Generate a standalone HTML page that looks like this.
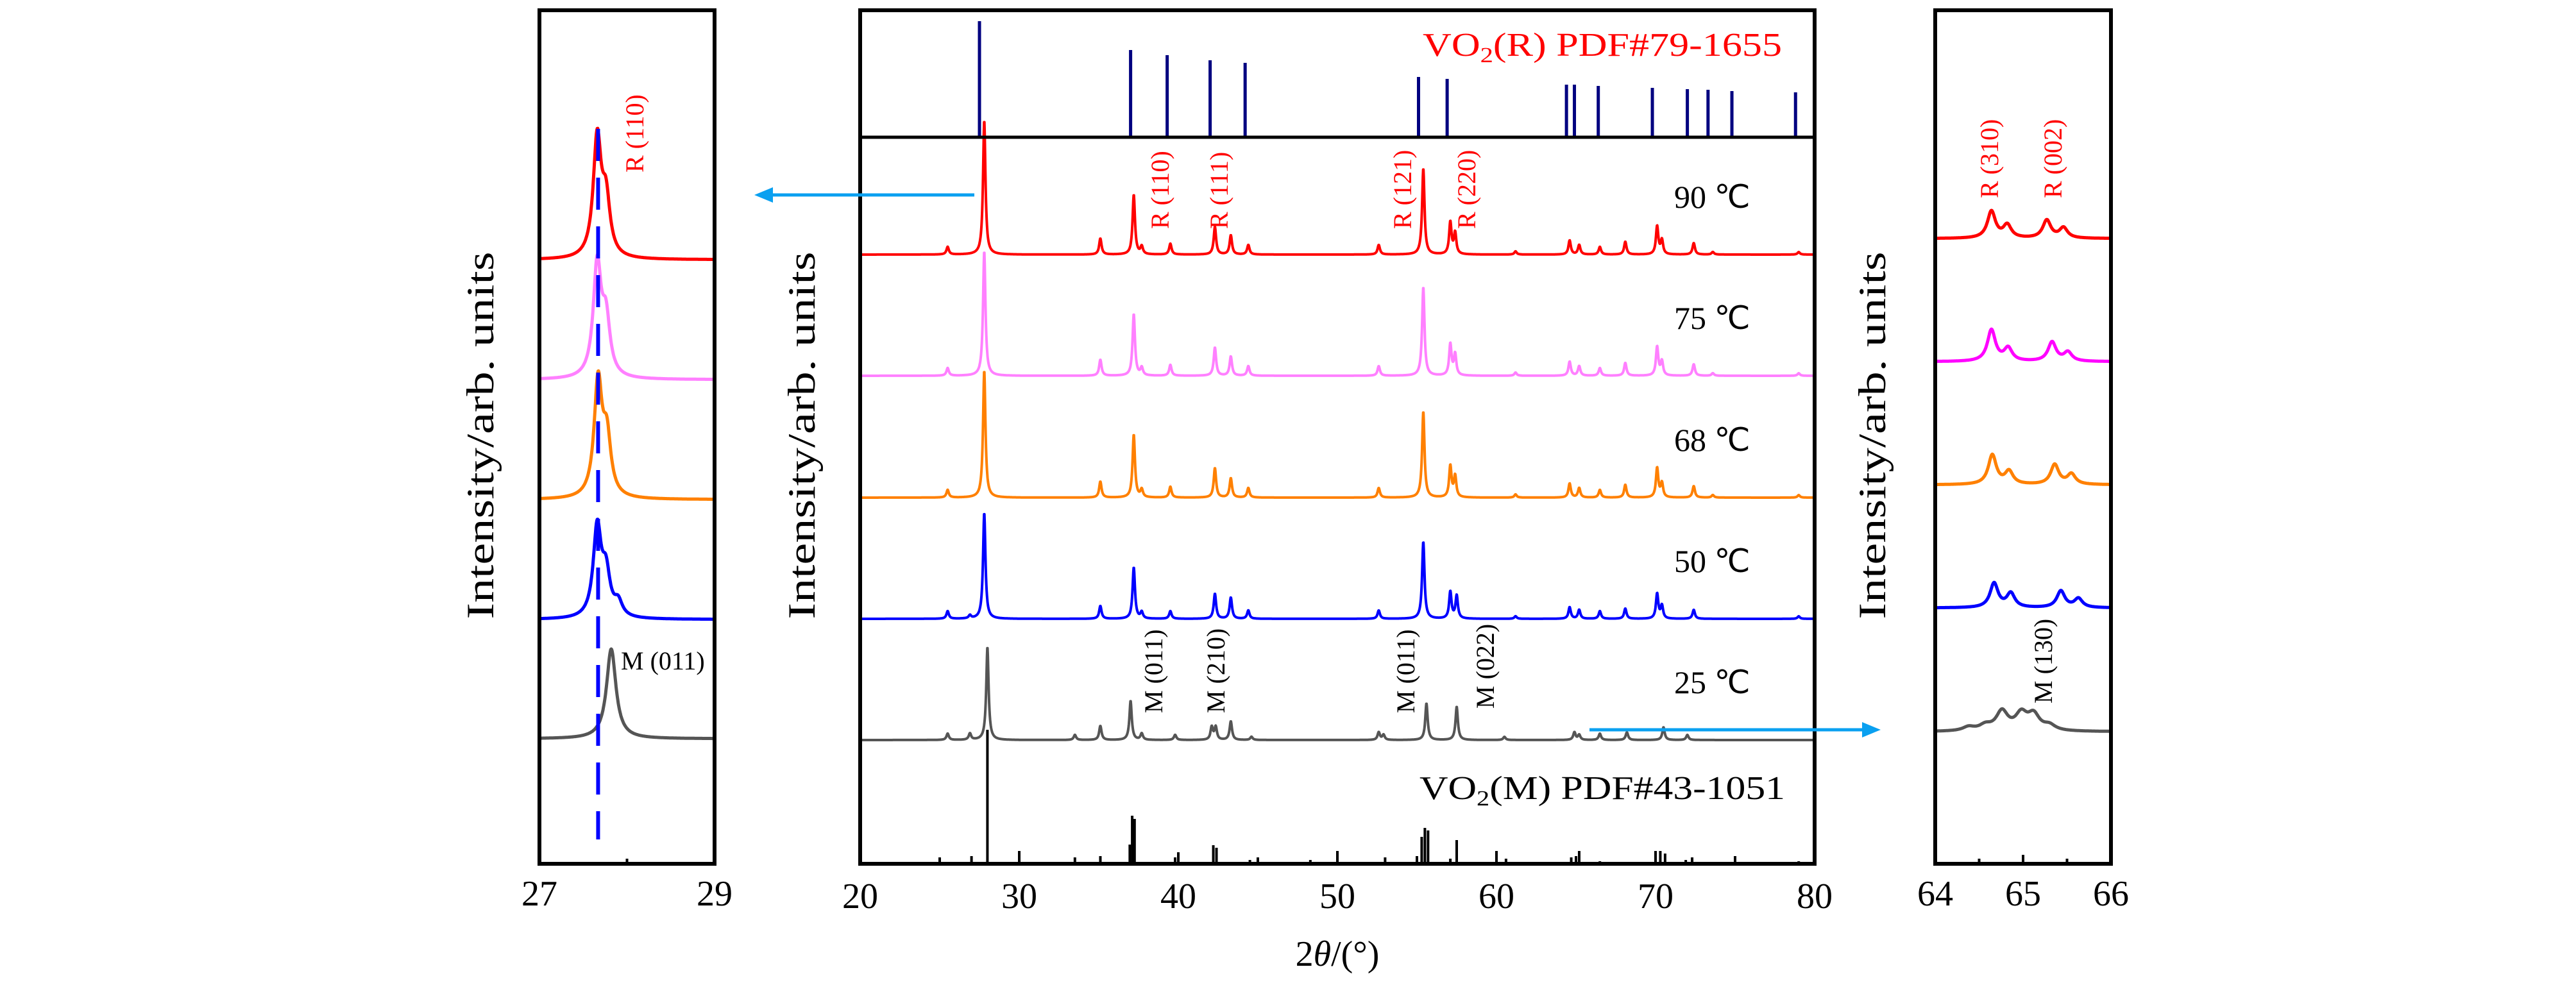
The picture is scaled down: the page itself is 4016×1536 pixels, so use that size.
<!DOCTYPE html>
<html><head><meta charset="utf-8"><style>
html,body{margin:0;padding:0;background:#fff}
svg{display:block}
text{font-family:"Liberation Serif",serif}
</style></head><body>
<svg id="chart" width="4016" height="1536" viewBox="0 0 4016 1536" xmlns="http://www.w3.org/2000/svg">
<g id="main"></g>
<g id="left"></g>
<g id="right"></g>
</svg>
<script>
// ---------- data ----------
const mainTicks = [20,30,40,50,60,70,80];
const leftTicks = [27,29];
const rightTicks = [64,65,66];
const tempLabels = ["90 ℃","75 ℃","68 ℃","50 ℃","25 ℃"];
const seriesColors = ["#ff0000","#ff80ff","#ff8000","#0000ff","#555555"];
const rightColors = ["#ff0000","#ff00ff","#ff8000","#0000ff","#555555"];

const refRPos = [27.5,37.0,39.3,42.0,44.2,55.1,56.9,64.4,64.9,66.4,69.8,72.0,73.3,74.8,78.8];
const refRInt = [181,136,128,120,116,94,91,82,82,80,77,75,74,72,70];
const refMPos = [25.0,27.0,28.0,30.0,33.5,35.1,36.95,37.1,37.25,39.8,40.0,42.2,42.4,44.5,45.0,48.3,50.0,53.0,55.0,55.3,55.5,55.7,57.1,57.5,60.0,60.6,64.7,65.0,65.2,66.5,70.0,70.3,70.6,71.9,72.3,75.0,79.0];
const refMInt = [10,12,209,20,10,12,30,75,70,10,18,29,25,6,10,6,20,10,12,42,56,52,8,37,20,8,10,12,20,4,20,20,16,6,10,12,4];

const p90 = [25.5,27.8,35.1,37.2,37.7,39.5,42.3,43.3,44.4,52.6,55.4,57.1,57.4,61.2,64.6,65.2,66.5,68.1,70.1,70.4,72.4,73.6,79.0];
const h90 = [12,209,25,93,12,17,43,30,15,15,134,50,33,5,22,15,12,20,44,22,18,4,4];
const p75 = p90;
const h75 = [12,194,25,96,12,17,44,30,15,15,138,49,33,5,22,15,12,20,45,22,18,4,4];
const p68 = p90;
const h68 = [12,198,25,98,12,17,46,30,15,15,134,49,33,5,22,15,12,20,46,22,18,4,4];
const p50 = [25.5,26.9,27.8,35.1,37.2,37.7,39.5,42.3,43.3,44.4,52.6,55.4,57.1,57.5,61.2,64.6,65.2,66.5,68.1,70.1,70.4,72.4,79.0];
const h50 = [12,5,165,20,80,10,12,39,33,13,13,120,42,36,4,18,14,12,16,39,20,14,4];
const p25 = [25.5,26.9,28.0,33.5,35.1,37.0,37.7,39.8,42.1,42.35,43.3,44.6,52.6,52.9,55.6,57.5,60.5,64.9,65.2,66.5,68.2,70.5,72.0];
const h25 = [10,10,145,8,22,61,10,8,20,20,29,5,12,8,57,52,5,12,8,10,12,20,8];
const mainBase = [397,586,776,965,1154];

const lp = [[27.66,27.76],[27.66,27.76],[27.67,27.77],[27.66,27.76,27.9],[27.82]];
const lh = [[185,85],[175,85],[180,88],[140,65,22],[140]];
const leftBase = [405,592,779,966,1152];

const rp = [[64.64,64.82,65.27,65.46],[64.64,64.83,65.33,65.51],[64.65,64.84,65.36,65.55],[64.67,64.86,65.43,65.63],[64.38,64.57,64.76,64.98,65.12,65.3]];
const rh = [[42,20,28,16],[49,20,30,14],[46,20,31,16],[38,22,26,14],[6,8,30,25,24,8]];
const rightBase = [372,564,756,948,1141];

// ---------- helpers ----------
const NS="http://www.w3.org/2000/svg";
function mk(parent,tag,attrs){const e=document.createElementNS(NS,tag);for(const k in attrs)e.setAttribute(k,attrs[k]);parent.appendChild(e);return e;}
function lin(d0,d1,r0,r1){return v=>r0+(v-d0)*(r1-r0)/(d1-d0);}
function profile(pos,hts,w,x0,x1,step){
  const pts=[];
  for(let x=x0;x<=x1+1e-9;x+=step){
    let y=0;
    for(let i=0;i<pos.length;i++){const d=(x-pos[i])/w;y+=hts[i]/(1+d*d);}
    pts.push([x,y]);
  }
  return pts;
}
function pathFrom(pts,sx,base){return pts.map((p,i)=>(i?"L":"M")+sx(p[0]).toFixed(1)+" "+(base-p[1]).toFixed(1)).join("");}

// ---------- main panel ----------
const main=document.getElementById('main');
const MX0=1341,MX1=2829,MTOP=16,MSPLIT=214,MBOT=1347;
const sx=lin(20,80,MX0,MX1);
const mainP=[p90,p75,p68,p50,p25], mainH=[h90,h75,h68,h50,h25];
const seriesNames=['series-90c','series-75c','series-68c','series-50c','series-25c'];
for(let s=0;s<5;s++){
  const pts=profile(mainP[s],mainH[s],0.09,20.05,79.95,0.02);
  const p=mk(main,'path',{d:pathFrom(pts,sx,mainBase[s]),fill:'none',stroke:seriesColors[s],'stroke-width':4,'stroke-linejoin':'round'});
  
  
}
for(let i=0;i<refRPos.length;i++){
  const l=mk(main,'line',{x1:sx(refRPos[i]),x2:sx(refRPos[i]),y1:MSPLIT,y2:MSPLIT-refRInt[i],stroke:'#000080','stroke-width':5});
  
  
}
for(let i=0;i<refMPos.length;i++){
  const l=mk(main,'line',{x1:sx(refMPos[i]),x2:sx(refMPos[i]),y1:MBOT,y2:MBOT-refMInt[i],stroke:'#000','stroke-width':4});
  
  
}
let fr=mk(main,'rect',{x:MX0,y:MTOP,width:MX1-MX0,height:MBOT-MTOP,fill:'none',stroke:'#000','stroke-width':6});


let sp=mk(main,'line',{x1:MX0,x2:MX1,y1:MSPLIT,y2:MSPLIT,stroke:'#000','stroke-width':5});


for(const t of mainTicks){
  const tx=mk(main,'text',{x:sx(t),y:1416,'font-size':56,'text-anchor':'middle'});tx.textContent=t;
  
  
}
for(let s=0;s<5;s++){
  const tx=mk(main,'text',{x:2610,y:mainBase[s]-73,'font-size':50});tx.textContent=tempLabels[s];
  
  
}

// ---------- left inset ----------
const left=document.getElementById('left');
const LX0=841,LX1=1114,LTOP=16,LBOT=1347;
const lx=lin(27,29,LX0,LX1);
for(let s=0;s<5;s++){
  const pts=profile(lp[s],lh[s],s==4?0.065:0.055,27.0,29.0,0.005);
  const p=mk(left,'path',{d:pathFrom(pts,lx,leftBase[s]),fill:'none',stroke:seriesColors[s],'stroke-width':5,'stroke-linejoin':'round'});
  
  
}
let dl=mk(left,'line',{x1:lx(27.67),x2:lx(27.67),y1:201,y2:1309,stroke:'#0000ff','stroke-width':6,'stroke-dasharray':'50 26'});


fr=mk(left,'rect',{x:LX0,y:LTOP,width:LX1-LX0,height:LBOT-LTOP,fill:'none',stroke:'#000','stroke-width':6});


mk(left,'line',{x1:lx(28),x2:lx(28),y1:LBOT,y2:LBOT-8,stroke:'#000','stroke-width':4});
for(const t of leftTicks){
  const tx=mk(left,'text',{x:lx(t),y:1412,'font-size':56,'text-anchor':'middle'});tx.textContent=t;
  
  
}

// ---------- right inset ----------
const right=document.getElementById('right');
const RX0=3017,RX1=3291,RTOP=16,RBOT=1347;
const rx=lin(64,66,RX0,RX1);
for(let s=0;s<5;s++){
  const pts=profile(rp[s],rh[s],s==4?0.08:0.055,64.0,66.0,0.005);
  const p=mk(right,'path',{d:pathFrom(pts,rx,rightBase[s]),fill:'none',stroke:rightColors[s],'stroke-width':5,'stroke-linejoin':'round'});
  
  
}
fr=mk(right,'rect',{x:RX0,y:RTOP,width:RX1-RX0,height:RBOT-RTOP,fill:'none',stroke:'#000','stroke-width':6});


for(const t of [64.5,65,65.5]) mk(right,'line',{x1:rx(t),x2:rx(t),y1:RBOT,y2:RBOT-(t==65?14:8),stroke:'#000','stroke-width':4});
for(const t of rightTicks){
  const tx=mk(right,'text',{x:rx(t),y:1412,'font-size':56,'text-anchor':'middle'});tx.textContent=t;
  
  
}
</script>
<svg style="position:absolute;left:0;top:0" width="4016" height="1536" viewBox="0 0 4016 1536">
<g font-family="Liberation Serif, serif">
<text x="2085" y="1506" font-size="56" text-anchor="middle">2<tspan font-style="italic">θ</tspan>/(°)</text>
<text transform="translate(769,679) rotate(-90)" font-size="60" text-anchor="middle" textLength="573" lengthAdjust="spacingAndGlyphs">Intensity/arb. units</text>
<text transform="translate(1270,679) rotate(-90)" font-size="60" text-anchor="middle" textLength="573" lengthAdjust="spacingAndGlyphs">Intensity/arb. units</text>
<text transform="translate(2939,679) rotate(-90)" font-size="60" text-anchor="middle" textLength="573" lengthAdjust="spacingAndGlyphs">Intensity/arb. units</text>
<text x="2218" y="87" font-size="52" fill="#ff0000" textLength="560" lengthAdjust="spacingAndGlyphs">VO<tspan font-size="34" dy="10">2</tspan><tspan dy="-10">(R) PDF#79-1655</tspan></text>
<text x="2213" y="1246" font-size="52" fill="#000" textLength="570" lengthAdjust="spacingAndGlyphs">VO<tspan font-size="34" dy="10">2</tspan><tspan dy="-10">(M) PDF#43-1051</tspan></text>
<g font-size="40" fill="#ff0000">
<text transform="translate(1822,357) rotate(-90)">R (110)</text>
<text transform="translate(1914,357) rotate(-90)">R (111)</text>
<text transform="translate(2200,357) rotate(-90)">R (121)</text>
<text transform="translate(2300,357) rotate(-90)">R (220)</text>
<text transform="translate(1003,269) rotate(-90)">R (110)</text>
<text transform="translate(3115,309) rotate(-90)">R (310)</text>
<text transform="translate(3214,309) rotate(-90)">R (002)</text>
</g>
<g font-size="40" fill="#000">
<text transform="translate(1812,1112) rotate(-90)">M (011)</text>
<text transform="translate(1909,1112) rotate(-90)">M (210)</text>
<text transform="translate(2205,1112) rotate(-90)">M (011)</text>
<text transform="translate(2329,1105) rotate(-90)">M (022)</text>
<text transform="translate(3199,1097) rotate(-90)">M (130)</text>
<text x="968" y="1044" font-size="40">M (011)</text>
</g>
</g>
<g>
<line x1="1519" y1="304" x2="1200" y2="304" stroke="#0aa0f0" stroke-width="5"/>
<polygon points="1176,304 1205,292 1205,316" fill="#0aa0f0"/>
</g>
<g>
<line x1="2478" y1="1138" x2="2905" y2="1138" stroke="#0aa0f0" stroke-width="5"/>
<polygon points="2932,1138 2903,1126 2903,1150" fill="#0aa0f0"/>
</g>
</svg>
</body></html>
